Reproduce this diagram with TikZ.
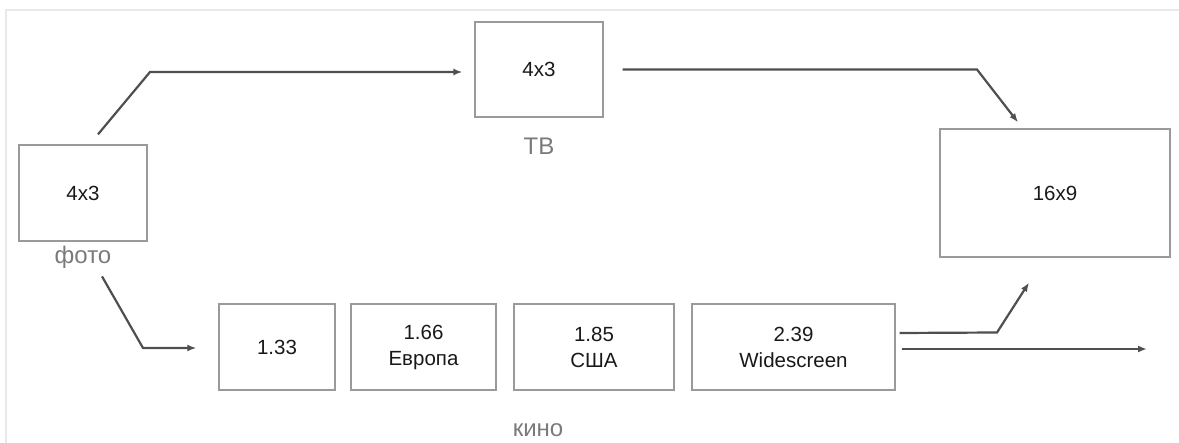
\documentclass[tikz,border=0pt]{standalone}
\usepackage{fontspec}
\setmainfont{Liberation Sans}
\usetikzlibrary{arrows.meta}
\definecolor{boxline}{HTML}{9A9A9A}
\definecolor{conncol}{HTML}{4F4F4F}
\definecolor{labcol}{HTML}{7A7A7A}
\definecolor{framecol}{HTML}{E8E8E8}
\tikzset{
  rbox/.style={draw=boxline, line width=1.3pt, rectangle, inner sep=0pt, align=center,
    font=\fontsize{20.5}{26}\selectfont, text=black!90},
  lab/.style={inner sep=0pt, text=labcol, font=\fontsize{24}{28}\selectfont},
  conn/.style={draw=conncol, line width=2.2pt, line join=miter,
    -{Latex[length=9pt,width=7pt]}},
}
\begin{document}
\begin{tikzpicture}[x=1pt,y=-1pt]
\useasboundingbox (0,0) rectangle (1179,443);
% frame
\draw[framecol, line width=2pt] (6,443) -- (6,10) -- (1179,10);
% boxes
\node[rbox, minimum width=128pt, minimum height=96pt] (foto) at (83,193) {4x3};
\node[rbox, minimum width=128pt, minimum height=95pt] (tv) at (539,69.5) {4x3};
\node[rbox, minimum width=230pt, minimum height=128pt] (hd) at (1055,193) {16x9};
\node[rbox, minimum width=116pt, minimum height=86pt] (k133) at (277,347) {1.33};
\node[rbox, minimum width=145pt, minimum height=86pt] (k166) at (423.5,347) {1.66\\Европа};
\node[rbox, minimum width=160pt, minimum height=86pt] (k185) at (594,347) {1.85\\США};
\node[rbox, minimum width=203pt, minimum height=86pt] (k239) at (793.5,347) {2.39\\Widescreen};
% labels
\node[lab] (fotolab) at (83,257) {фото};
\node[lab] (tvlab) at (539,146) {ТВ};
\node[lab] (kinolab) at (538,430) {кино};
% connectors
\coordinate (c1) at (150,72);
\draw[conn] ([xshift=15pt,yshift=10pt]foto.north) -- (c1) -- ([xshift=-12pt,yshift=-2.5pt]tv.west);
\coordinate (c2) at (977,69.5);
\draw[conn] ([xshift=19pt]tv.east) -- (c2) -- ([xshift=-37pt,yshift=6pt]hd.north);
\coordinate (c3) at (143,348);
\draw[conn] ([xshift=19pt,yshift=-8pt]fotolab.south) -- (c3) -- ([xshift=-22pt,yshift=-1pt]k133.west);
\coordinate (c4) at (997,332.5);
\draw[conn] ([xshift=4pt,yshift=14pt]k239.east) -- (c4) -- ([xshift=-26pt,yshift=-25pt]hd.south);
\coordinate (out) at (1147,349);
\draw[conn] ([xshift=6pt,yshift=-2pt]k239.east) -- (out);
\end{tikzpicture}
\end{document}
